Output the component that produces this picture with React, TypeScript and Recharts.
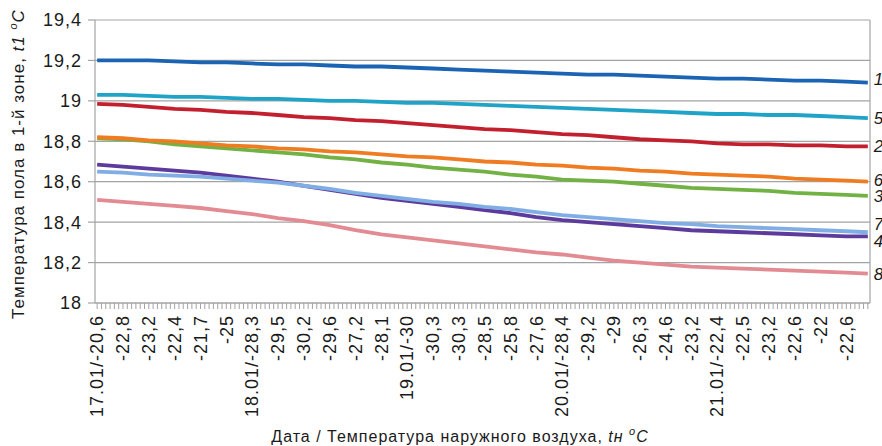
import React from 'react'
import { CartesianGrid, Label, Line, LineChart, ReferenceLine, XAxis, YAxis } from 'recharts'

// every label is one 4-hour step; 6 tick slots per step
const TICK_LABELS = [
  '17.01/-20,6', '-22,8', '-23,2', '-22,4', '-21,7', '-25',
  '18.01/-28,3', '-29,5', '-30,2', '-29,6', '-27,2', '-28,1',
  '19.01/-30', '-30,3', '-30,3', '-28,5', '-25,8', '-27,6',
  '20.01/-28,4', '-29,2', '-29', '-26,3', '-24,6', '-23,2',
  '21.01/-22,4', '-22,5', '-23,2', '-22,6', '-22', '-22,6',
]
const SLOTS_PER_LABEL = 6
const LAST_SLOT = TICK_LABELS.length * SLOTS_PER_LABEL - 1

const Y_TICKS = [18, 18.2, 18.4, 18.6, 18.8, 19, 19.2, 19.4]

// readings at each labelled slot, plus the final slot
const ZONE_1 = [19.2, 19.2, 19.2, 19.195, 19.19, 19.19, 19.185, 19.18, 19.18, 19.175, 19.17, 19.17, 19.165, 19.16, 19.155, 19.15, 19.145, 19.14, 19.135, 19.13, 19.13, 19.125, 19.12, 19.115, 19.11, 19.11, 19.105, 19.1, 19.1, 19.095, 19.09]
const ZONE_2 = [18.985, 18.98, 18.97, 18.96, 18.955, 18.945, 18.94, 18.93, 18.92, 18.915, 18.905, 18.9, 18.89, 18.88, 18.87, 18.86, 18.855, 18.845, 18.835, 18.83, 18.82, 18.81, 18.805, 18.8, 18.79, 18.785, 18.785, 18.78, 18.78, 18.775, 18.775]
const ZONE_3 = [18.815, 18.81, 18.8, 18.785, 18.775, 18.765, 18.755, 18.745, 18.735, 18.72, 18.71, 18.695, 18.685, 18.67, 18.66, 18.65, 18.635, 18.625, 18.61, 18.605, 18.6, 18.59, 18.58, 18.57, 18.565, 18.56, 18.555, 18.545, 18.54, 18.535, 18.53]
const ZONE_4 = [18.685, 18.675, 18.665, 18.655, 18.645, 18.63, 18.615, 18.6, 18.58, 18.56, 18.54, 18.52, 18.505, 18.49, 18.475, 18.46, 18.445, 18.425, 18.41, 18.4, 18.39, 18.38, 18.37, 18.36, 18.355, 18.35, 18.345, 18.34, 18.335, 18.33, 18.33]
const ZONE_5 = [19.03, 19.03, 19.025, 19.02, 19.02, 19.015, 19.01, 19.01, 19.005, 19.0, 19.0, 18.995, 18.99, 18.99, 18.985, 18.98, 18.975, 18.97, 18.965, 18.96, 18.955, 18.95, 18.945, 18.94, 18.935, 18.935, 18.93, 18.93, 18.925, 18.92, 18.915]
const ZONE_6 = [18.82, 18.815, 18.805, 18.8, 18.79, 18.78, 18.775, 18.765, 18.76, 18.75, 18.745, 18.735, 18.725, 18.72, 18.71, 18.7, 18.695, 18.685, 18.68, 18.67, 18.665, 18.655, 18.65, 18.64, 18.635, 18.63, 18.625, 18.615, 18.61, 18.605, 18.6]
const ZONE_7 = [18.65, 18.645, 18.635, 18.63, 18.625, 18.615, 18.605, 18.595, 18.58, 18.565, 18.545, 18.53, 18.515, 18.5, 18.49, 18.475, 18.465, 18.45, 18.435, 18.425, 18.415, 18.405, 18.395, 18.39, 18.38, 18.375, 18.37, 18.365, 18.36, 18.355, 18.35]
const ZONE_8 = [18.51, 18.5, 18.49, 18.48, 18.47, 18.455, 18.44, 18.42, 18.405, 18.385, 18.36, 18.34, 18.325, 18.31, 18.295, 18.28, 18.265, 18.25, 18.24, 18.225, 18.21, 18.2, 18.19, 18.18, 18.175, 18.17, 18.165, 18.16, 18.155, 18.15, 18.145]

const SERIES = [
  { key: 'z1', name: '1', color: '#1b64b4', values: ZONE_1 },
  { key: 'z2', name: '2', color: '#c3202f', values: ZONE_2 },
  { key: 'z3', name: '3', color: '#72b244', values: ZONE_3 },
  { key: 'z4', name: '4', color: '#5d3b9c', values: ZONE_4 },
  { key: 'z5', name: '5', color: '#1fa3c7', values: ZONE_5 },
  { key: 'z6', name: '6', color: '#f07c22', values: ZONE_6 },
  { key: 'z7', name: '7', color: '#80aee4', values: ZONE_7 },
  { key: 'z8', name: '8', color: '#e38b93', values: ZONE_8 },
]

// vertical nudge of the end labels so they don't collide
const LABEL_NUDGE: Record<string, number> = { '1': -4, '6': -2, '7': -8, '4': 5 }

const SAMPLE_SLOTS = [...TICK_LABELS.map((_, k) => k * SLOTS_PER_LABEL), LAST_SLOT]
const ALL_SLOTS = Array.from({ length: LAST_SLOT + 1 }, (_, i) => i)

const rows = SAMPLE_SLOTS.map((t, i) => {
  const row: Record<string, number> = { t }
  SERIES.forEach((s) => {
    row[s.key] = s.values[i]
  })
  return row
})

const GRID = '#a3a3a3'
const INK = '#1a1a1a'
const FONT = '"Liberation Sans", Arial, sans-serif'

function SlotTick({ x, y, payload }: any) {
  const v = payload.value
  if (v % SLOTS_PER_LABEL !== 0) return <g />
  const ty = y + 4
  return (
    <text
      x={x}
      y={ty}
      transform={`rotate(-90 ${x} ${ty})`}
      textAnchor="end"
      dy="0.35em"
      fontSize={18}
      fill={INK}
    >
      {TICK_LABELS[v / SLOTS_PER_LABEL]}
    </text>
  )
}

// series number written just past the last point
function endDot(name: string) {
  return (props: any) => {
    const { cx, cy, index } = props
    if (index !== rows.length - 1) return <g key={`${name}-${index}`} />
    return (
      <text
        key={`${name}-${index}`}
        x={cx + 6}
        y={cy + (LABEL_NUDGE[name] ?? 0)}
        dy="0.35em"
        fontSize={17}
        fontStyle="italic"
        fill={INK}
        stroke="none"
      >
        {name}
      </text>
    )
  }
}

function YTitle() {
  const cx = 10
  const cy = 156
  return (
    <text
      x={cx}
      y={cy}
      transform={`rotate(-90 ${cx} ${cy})`}
      textAnchor="middle"
      dy="0.35em"
      fontSize={17}
      letterSpacing={1}
      fill={INK}
    >
      <tspan>Температура пола в 1-й зоне, </tspan>
      <tspan fontStyle="italic">t1 </tspan>
      <tspan fontStyle="italic" fontSize={11} dy={-7}>o</tspan>
      <tspan fontStyle="italic" dy={7}>C</tspan>
    </text>
  )
}

function XTitle() {
  return (
    <text x={452} y={434} textAnchor="middle" fontSize={16} fill={INK}>
      <tspan>Дата / Температура наружного воздуха, </tspan>
      <tspan fontStyle="italic">tн </tspan>
      <tspan fontStyle="italic" fontSize={11} dy={-7}>o</tspan>
      <tspan fontStyle="italic" dy={7}>C</tspan>
    </text>
  )
}

export default function App() {
  return (
    <div
      style={{
        position: 'absolute',
        left: 8,
        top: 8,
        width: 874,
        height: 438,
        fontFamily: FONT,
        letterSpacing: 1,
      }}
    >
      <LineChart
        width={874}
        height={438}
        data={rows}
        margin={{ top: 12, right: 12, bottom: 0, left: 0 }}
      >
        <CartesianGrid vertical={false} stroke={GRID} strokeWidth={1.2} />
        <XAxis
          type="number"
          dataKey="t"
          domain={[-0.5, LAST_SLOT + 0.5]}
          ticks={ALL_SLOTS}
          interval={0}
          height={143}
          tickSize={6}
          axisLine={{ stroke: GRID, strokeWidth: 1.2 }}
          tickLine={{ stroke: GRID }}
          tick={<SlotTick />}
        >
          <Label content={<XTitle />} />
        </XAxis>
        <YAxis
          domain={[18, 19.4]}
          ticks={Y_TICKS}
          width={87}
          tickSize={7}
          tickMargin={6}
          axisLine={{ stroke: GRID, strokeWidth: 1.2 }}
          tickLine={{ stroke: GRID, strokeWidth: 1.2 }}
          tick={{ fontSize: 18, fill: INK }}
          tickFormatter={(v: number) => String(Number(v.toFixed(1))).replace('.', ',')}
        >
          <Label content={<YTitle />} />
        </YAxis>
        <ReferenceLine x={LAST_SLOT + 0.5} stroke={GRID} strokeWidth={1.2} />
        {SERIES.map((s) => (
          <Line
            key={s.key}
            dataKey={s.key}
            name={s.name}
            type="linear"
            stroke={s.color}
            strokeWidth={3.8}
            dot={endDot(s.name)}
            activeDot={false}
            isAnimationActive={false}
          />
        ))}
      </LineChart>
    </div>
  )
}
